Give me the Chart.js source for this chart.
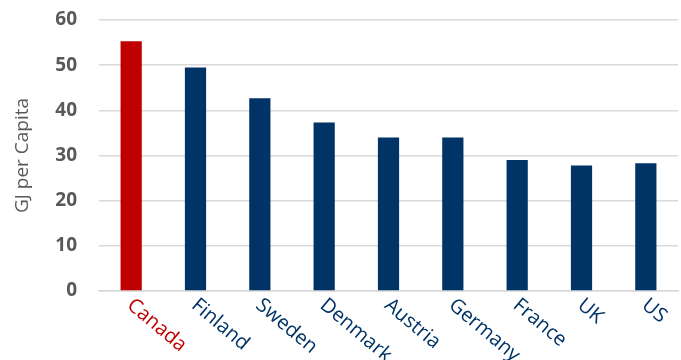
<!DOCTYPE html>
<html>
<head>
<meta charset="utf-8">
<script src="https://cdn.jsdelivr.net/npm/chart.js@4"></script>
<style>
  html, body { margin: 0; padding: 0; background: #fff; }
  #wrap { width: 681px; height: 360px; }
</style>
</head>
<body>
<div id="wrap"><canvas id="energy_chart"></canvas></div>
<script>
// energy use per capita, GJ
const countries = ['Canada', 'Finland', 'Sweden', 'Denmark', 'Austria', 'Germany', 'France', 'UK', 'US'];
const gjPerCapita = [55.3, 49.5, 42.7, 37.3, 34.0, 34.0, 29.0, 27.8, 28.3];
const yTicks = [0, 10, 20, 30, 40, 50, 60];
const highlight = 'Canada';

const NAVY = '#003366';
const RED = '#C00000';
const colorFor = c => c === highlight ? RED : NAVY;

// excel style labels: slanted down to the right, starting at the tick
const slantedLabels = {
    id: 'slantedLabels',
    afterDraw(chart) {
        const ctx = chart.ctx;
        const x = chart.scales.x;
        ctx.save();
        ctx.font = '20px "Open Sans"';
        ctx.textAlign = 'left';
        ctx.textBaseline = 'top';
        countries.forEach((c, i) => {
            ctx.save();
            ctx.translate(x.getPixelForValue(i) + 5, x.top + 4);
            ctx.rotate(40 * Math.PI / 180);
            ctx.fillStyle = colorFor(c);
            ctx.fillText(c, 0, 0);
            ctx.restore();
        });
        ctx.restore();
    }
};

new Chart(document.getElementById('energy_chart'), {
    type: 'bar',
    data: {
        labels: countries,
        datasets: [{
            data: gjPerCapita,
            backgroundColor: countries.map(colorFor),
            borderWidth: 0,
            categoryPercentage: 1,
            barPercentage: 0.33
        }]
    },
    options: {
        responsive: true,
        maintainAspectRatio: false,
        animation: false,
        layout: { padding: { top: 20, right: 3, left: 11, bottom: 0 } },
        plugins: { legend: { display: false }, tooltip: { enabled: false } },
        scales: {
            x: {
                grid: { display: false },
                border: { color: '#d9d9d9', width: 1.5 },
                ticks: { display: false },
                afterFit: s => { s.height = 69; }
            },
            y: {
                min: 0,
                max: 60,
                afterBuildTicks: s => { s.ticks = yTicks.map(v => ({ value: v })); },
                grid: { color: '#d9d9d9', lineWidth: 1.5, drawTicks: false },
                border: { display: false },
                ticks: {
                    color: '#595959',
                    padding: 22,
                    font: { family: '"Open Sans"', size: 19, weight: 'bold' }
                },
                title: {
                    display: true,
                    text: 'GJ per Capita',
                    color: '#595959',
                    padding: 0,
                    font: { family: '"Open Sans"', size: 19 }
                },
                afterFit: s => {
                    s.width = 88;
                    s.paddingTop = 0;
                    s.paddingBottom = 0;
                }
            }
        }
    },
    plugins: [slantedLabels]
});
</script>
</body>
</html>
